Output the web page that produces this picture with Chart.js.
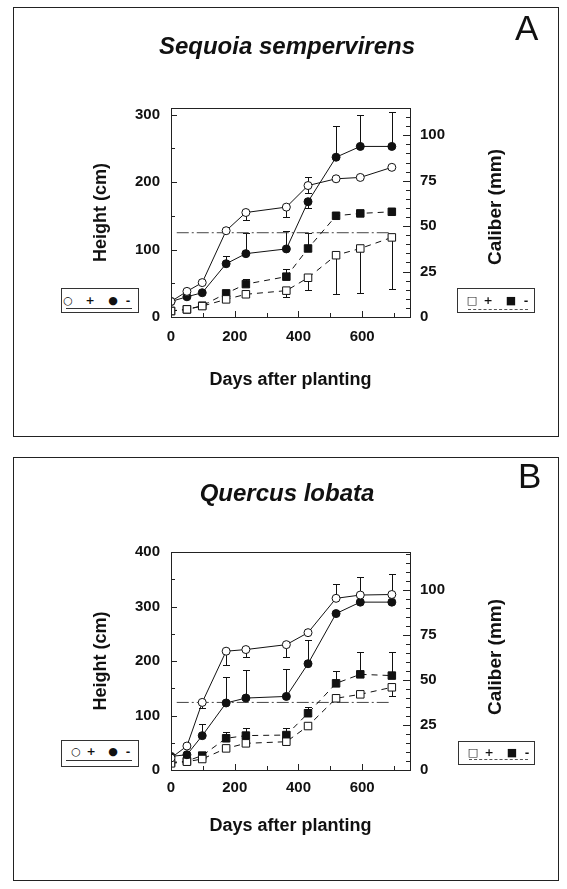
<!DOCTYPE html>
<html>
<head>
<meta charset="utf-8">
<script src="https://cdn.jsdelivr.net/npm/chart.js@4.4.0/dist/chart.umd.min.js"></script>
<style>
body { margin: 0; background: #fff; width: 567px; height: 889px; position: relative; overflow: hidden;
       font-family: "Liberation Sans", Arial, sans-serif; color: #111; }
.panel { position: absolute; border: 1px solid #222; box-sizing: border-box; }
canvas { position: absolute; left: 0; }
.letter { position: absolute; font-size: 35px; line-height: 35px; }
.ytitle { position: absolute; font-weight: bold; font-size: 19px; white-space: nowrap;
          transform: translate(-50%, -50%) rotate(-90deg); }
.leg { position: absolute; border: 1px solid #333; box-sizing: border-box; background: #fff; }
.leg span { position: absolute; font-family: "DejaVu Sans", sans-serif; font-size: 11px; line-height: 11px;
            transform: translate(-50%, -50%); font-weight: bold; }
.leg .ul { position: absolute; left: 4px; right: 6px; height: 0; }
</style>
</head>
<body>

<div class="panel" style="left:13px; top:7px; width:546px; height:430px"></div>
<div class="panel" style="left:13px; top:457px; width:546px; height:424px"></div>

<canvas id="chartA" width="567" height="447" style="top:0"></canvas>
<canvas id="chartB" width="567" height="442" style="top:447px"></canvas>

<div class="letter" style="left:515px; top:10px">A</div>
<div class="letter" style="left:518px; top:458px">B</div>

<div class="ytitle" style="left:495px; top:207px">Caliber (mm)</div>
<div class="ytitle" style="left:495px; top:657px">Caliber (mm)</div>

<!-- legends -->
<div class="leg" style="left:61px; top:288px; width:78px; height:25px">
  <span style="left:6px; top:11px">○</span><span style="left:28px; top:11px">+</span>
  <span style="left:51px; top:11px">●</span><span style="left:66px; top:11px">-</span>
  <div class="ul" style="top:19px; border-top:1px solid #333"></div>
</div>
<div class="leg" style="left:457px; top:288px; width:78px; height:25px">
  <span style="left:14px; top:11px">□</span><span style="left:30px; top:11px">+</span>
  <span style="left:53px; top:11px">■</span><span style="left:68px; top:11px">-</span>
  <div class="ul" style="top:20px; left:10px; border-top:1px dashed #555"></div>
</div>
<div class="leg" style="left:61px; top:740px; width:78px; height:27px">
  <span style="left:14px; top:10px">○</span><span style="left:29px; top:10px">+</span>
  <span style="left:51px; top:10px">●</span><span style="left:66px; top:10px">-</span>
  <div class="ul" style="top:19px; border-top:1px solid #333"></div>
</div>
<div class="leg" style="left:458px; top:741px; width:77px; height:24px">
  <span style="left:14px; top:10px">□</span><span style="left:30px; top:10px">+</span>
  <span style="left:53px; top:10px">■</span><span style="left:68px; top:10px">-</span>
  <div class="ul" style="top:17px; left:10px; border-top:1px dashed #555"></div>
</div>

<script>
// sampling days (days after planting)
const days = [0, 50, 98, 173, 235, 362, 430, 518, 594, 693]

// tick labels
const dayLabels = [0, 200, 400, 600]
const caliberLabels = [0, 25, 50, 75, 100]
const seqHeightLabels = [0, 100, 200, 300]
const querHeightLabels = [0, 100, 200, 300, 400]

// reference (dash-dot) line
const refDays = [18, 683]
const seqRefHeight = 125
const querRefHeight = 124

/* A - Sequoia sempervirens */
const seqHeightPlus   = [23, 38, 51, 128, 155, 163, 195, 205, 207, 222]
const seqHeightMinus  = [23, 30, 36, 79, 94, 101, 171, 237, 253, 253]
const seqCaliberPlus  = [3.3, 4.2, 6.0, 9.7, 12.5, 14.5, 21.6, 34, 37.7, 43.8]
const seqCaliberMinus = [3.3, 4.2, 6.2, 13, 18.1, 22.2, 37.7, 55.7, 57, 57.9]
const seqHeightPlusUp    = [0, 0, 0, 0, 0, 0, 12, 0, 0, 0]
const seqHeightPlusDown  = [0, 0, 0, 0, 11, 15, 11, 0, 0, 0]
const seqHeightMinusUp   = [0, 0, 0, 12, 30, 26, 0, 47, 46, 51]
const seqHeightMinusDown = [0, 0, 0, 0, 0, 0, 10, 0, 0, 0]
const seqCaliberPlusUp    = [0, 0, 0, 0, 0, 0, 0, 0, 0, 0]
const seqCaliberPlusDown  = [0, 0, 0, 0, 0, 3.3, 6.8, 21.5, 24.3, 28.4]
const seqCaliberMinusUp   = [0, 0, 0, 0, 2.6, 4, 8.3, 0, 0, 0]
const seqCaliberMinusDown = [0, 0, 0, 0, 0, 0, 0, 0, 0, 0]

/* B - Quercus lobata */
const querHeightPlus   = [22, 44, 124, 218, 221, 230, 252, 315, 321, 322]
const querHeightMinus  = [25, 28, 63, 123, 132, 135, 195, 287, 308, 308]
const querCaliberPlus  = [3.7, 4.6, 6.1, 12, 14.8, 15.7, 24.4, 39.8, 42, 45.9]
const querCaliberMinus = [4.1, 5, 8, 17.6, 19.1, 19.4, 31.5, 48.1, 53.1, 52.4]
const querHeightPlusUp    = [0, 0, 0, 0, 0, 0, 0, 26, 34, 37]
const querHeightPlusDown  = [0, 0, 10, 25, 14, 23, 0, 0, 0, 0]
const querHeightMinusUp   = [0, 0, 22, 48, 52, 50, 44, 0, 0, 0]
const querHeightMinusDown = [0, 0, 0, 0, 0, 0, 0, 0, 0, 0]
const querCaliberPlusUp    = [0, 0, 0, 0, 0, 0, 0, 0, 0, 0]
const querCaliberPlusDown  = [0, 0, 0, 0, 0, 0, 0, 0, 0, 4.6]
const querCaliberMinusUp   = [0, 0, 0, 3.7, 4, 3.7, 3.7, 7, 12.6, 13.3]
const querCaliberMinusDown = [0, 0, 0, 0, 0, 0, 0, 0, 0, 0]

const INK = '#111'
const FONT = '"Liberation Sans", Arial, sans-serif'

function pts(vals) {
    return vals.map((v, i) => ({ x: days[i], y: v }))
}

function steps(max, step) {
    const out = []
    for (let v = 0; v <= max + 1e-9; v += step) out.push({ value: v })
    return out
}

function serie(vals, axis, style, filled, up, down) {
    const isSquare = style === 'rect'
    return {
        data: pts(vals),
        yAxisID: axis,
        borderColor: INK,
        borderWidth: 1,
        borderDash: isSquare ? [6, 5] : [],
        pointStyle: style,
        pointRadius: isSquare ? 5.3 : 4,
        pointBorderWidth: 1,
        pointBorderColor: INK,
        pointBackgroundColor: filled ? INK : '#fff',
        errUp: up,
        errDown: down
    }
}

/* error bars + inward ticks + plot frame */
const extras = {
    id: 'extras',
    beforeDatasetsDraw(chart) {
        const ctx = chart.ctx
        ctx.save()
        ctx.strokeStyle = INK
        ctx.lineWidth = 1
        chart.data.datasets.forEach(ds => {
            if (!ds.errUp) return
            const ys = chart.scales[ds.yAxisID]
            const xs = chart.scales.x
            ds.data.forEach((p, i) => {
                const px = Math.round(xs.getPixelForValue(p.x)) + 0.5
                ;[ds.errUp[i], -ds.errDown[i]].forEach(e => {
                    if (!e) return
                    const y0 = ys.getPixelForValue(p.y)
                    const y1 = Math.round(ys.getPixelForValue(p.y + e)) + 0.5
                    ctx.beginPath()
                    ctx.moveTo(px, y0)
                    ctx.lineTo(px, y1)
                    ctx.moveTo(px - 3.5, y1)
                    ctx.lineTo(px + 3.5, y1)
                    ctx.stroke()
                })
            })
        })
        ctx.restore()
    },
    afterDraw(chart) {
        const ctx = chart.ctx
        const a = chart.chartArea
        ctx.save()
        ctx.strokeStyle = '#222'
        ctx.lineWidth = 1
        ctx.beginPath()
        const xs = chart.scales.x
        xs.ticks.forEach(t => {
            const px = Math.round(xs.getPixelForValue(t.value)) + 0.5
            const len = t.value % 200 ? 4 : 6
            ctx.moveTo(px, a.bottom)
            ctx.lineTo(px, a.bottom - len)
        })
        const yl = chart.scales.y
        yl.ticks.forEach(t => {
            const py = Math.round(yl.getPixelForValue(t.value)) + 0.5
            const len = t.value % 100 ? 4 : 6
            ctx.moveTo(a.left, py)
            ctx.lineTo(a.left + len, py)
        })
        const yr = chart.scales.y2
        yr.ticks.forEach(t => {
            const py = Math.round(yr.getPixelForValue(t.value)) + 0.5
            const len = t.value % 25 ? 4 : 7
            ctx.moveTo(a.right, py)
            ctx.lineTo(a.right - len, py)
        })
        ctx.stroke()
        ctx.strokeRect(Math.round(a.left) + 0.5, Math.round(a.top) + 0.5,
                       Math.round(a.right - a.left), Math.round(a.bottom - a.top))
        ctx.restore()
    }
}

function makePanel(id, o) {
    const tickFont = { family: FONT, size: 15, weight: 'bold' }
    const titleFont = { family: FONT, size: 18, weight: 'bold' }
    const data = {
        datasets: [
            serie(o.hPlus, 'y', 'circle', false, o.hPlusUp, o.hPlusDown),
            serie(o.hMinus, 'y', 'circle', true, o.hMinusUp, o.hMinusDown),
            serie(o.cPlus, 'y2', 'rect', false, o.cPlusUp, o.cPlusDown),
            serie(o.cMinus, 'y2', 'rect', true, o.cMinusUp, o.cMinusDown),
            {
                data: refDays.map(d => ({ x: d, y: o.ref })),
                yAxisID: 'y',
                borderColor: '#444',
                borderWidth: 1,
                borderDash: [12, 3, 2, 3],
                pointRadius: 0
            }
        ]
    }
    const config = {
        type: 'line',
        data: data,
        options: {
            responsive: false,
            animation: false,
            devicePixelRatio: 1,
            layout: { padding: { left: 60, right: 53, top: 0, bottom: o.padBottom } },
            plugins: {
                legend: { display: false },
                tooltip: { enabled: false },
                title: {
                    display: true,
                    text: o.title,
                    color: INK,
                    font: { family: FONT, size: 24, weight: 'bold', style: 'italic' },
                    padding: { top: o.titleTop, bottom: o.titleBottom }
                }
            },
            scales: {
                x: {
                    type: 'linear', min: 0, max: 750,
                    grid: { display: false, drawTicks: false },
                    border: { display: false },
                    ticks: {
                        autoSkip: false, maxRotation: 0, color: INK, font: tickFont,
                        padding: o.xPad,
                        callback: v => dayLabels.includes(v) ? String(v) : ''
                    },
                    afterBuildTicks: s => { s.ticks = steps(700, 100) },
                    title: { display: true, text: 'Days after planting', color: INK, font: titleFont },
                    afterFit: s => { s.height = o.xHeight }
                },
                y: {
                    position: 'left', min: 0, max: o.hMax,
                    grid: { display: false, drawTicks: false },
                    border: { display: false },
                    ticks: {
                        autoSkip: false, color: INK, font: tickFont, padding: 11,
                        callback: v => o.hLabels.includes(v) ? String(v) : ''
                    },
                    afterBuildTicks: s => { s.ticks = steps(o.hMax, 50) },
                    title: {
                        display: true, text: 'Height (cm)', color: INK, font: titleFont,
                        padding: { top: 30, bottom: 4 }
                    },
                    afterFit: s => { s.width = 111 }
                },
                y2: {
                    position: 'right', min: 0, max: o.cMax,
                    grid: { display: false, drawTicks: false },
                    border: { display: false },
                    ticks: {
                        autoSkip: false, color: INK, font: tickFont, padding: 10,
                        callback: v => caliberLabels.includes(v) ? String(v) : ''
                    },
                    afterBuildTicks: s => { s.ticks = steps(o.cMax, 5) },
                    afterFit: s => { s.width = 104 }
                }
            }
        },
        plugins: [extras]
    }
    return new Chart(document.getElementById(id).getContext('2d'), config)
}

makePanel('chartA', {
    title: 'Sequoia sempervirens',
    hPlus: seqHeightPlus, hMinus: seqHeightMinus, cPlus: seqCaliberPlus, cMinus: seqCaliberMinus,
    hPlusUp: seqHeightPlusUp, hPlusDown: seqHeightPlusDown,
    hMinusUp: seqHeightMinusUp, hMinusDown: seqHeightMinusDown,
    cPlusUp: seqCaliberPlusUp, cPlusDown: seqCaliberPlusDown,
    cMinusUp: seqCaliberMinusUp, cMinusDown: seqCaliberMinusDown,
    ref: seqRefHeight, hMax: 310, cMax: 115, hLabels: seqHeightLabels,
    titleTop: 32.6, titleBottom: 46.6, xHeight: 78, padBottom: 52, xPad: 11
})

makePanel('chartB', {
    title: 'Quercus lobata',
    hPlus: querHeightPlus, hMinus: querHeightMinus, cPlus: querCaliberPlus, cMinus: querCaliberMinus,
    hPlusUp: querHeightPlusUp, hPlusDown: querHeightPlusDown,
    hMinusUp: querHeightMinusUp, hMinusDown: querHeightMinusDown,
    cPlusUp: querCaliberPlusUp, cPlusDown: querCaliberPlusDown,
    cMinusUp: querCaliberMinusUp, cMinusDown: querCaliberMinusDown,
    ref: querRefHeight, hMax: 400, cMax: 121, hLabels: querHeightLabels,
    titleTop: 32.6, titleBottom: 43.6, xHeight: 71, padBottom: 48, xPad: 9
})
</script>
</body>
</html>
